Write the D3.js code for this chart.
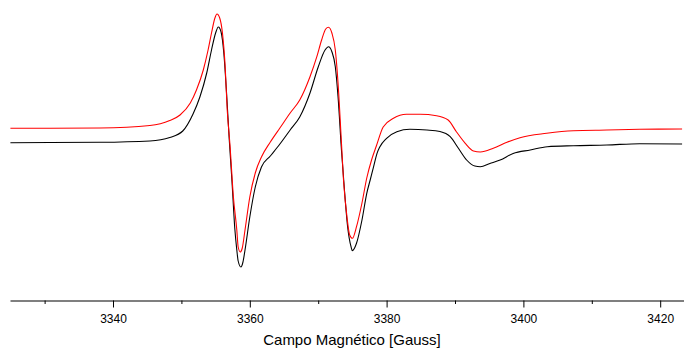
<!DOCTYPE html>
<html>
<head>
<meta charset="utf-8">
<script src="https://cdn.jsdelivr.net/npm/d3@7"></script>
<style>
  html, body { margin: 0; padding: 0; background: #fff; }
  svg { display: block; }
  text { font-family: "Liberation Sans", Arial, sans-serif; }
</style>
</head>
<body>
<svg id="chart" width="684" height="349"></svg>
<script>
// Magnetic field (Gauss) and derivative EPR intensity (arb. units)
const fieldBlack = [3325.0, 3330.8, 3338.1, 3345.4, 3348.3, 3350.2, 3351.7, 3352.7, 3353.7, 3354.4,
  3355.0, 3355.4, 3355.8, 3356.2, 3356.6, 3357.0, 3357.4, 3357.8, 3358.1, 3358.3,
  3358.7, 3359.0, 3359.3, 3360.0, 3360.8, 3361.7, 3363.0, 3364.4, 3365.9, 3367.3,
  3368.8, 3370.0, 3371.0, 3371.5, 3372.0, 3372.5, 3372.9, 3373.4, 3373.8, 3374.3,
  3374.8, 3375.0, 3375.6, 3376.4, 3377.1, 3377.6, 3378.1, 3378.6, 3379.0, 3380.0,
  3381.5, 3383.4, 3385.9, 3387.8, 3389.3, 3390.5, 3391.7, 3392.9, 3393.7, 3395.1,
  3396.6, 3398.5, 3401.0, 3403.5, 3407.3, 3412.2, 3417.0, 3423.2];
const intensityBlack = [7.3, 7.5, 7.7, 9, 12.5, 19, 36, 53, 77, 100,
  117, 123, 118, 97, 57, 10, -32, -78, -100, -111,
  -117, -112, -100, -67, -37, -17, -6, 6, 20, 33,
  57, 83, 100, 103.3, 98.3, 83.3, 53.3, 0, -36.7, -76.7,
  -96.7, -100.7, -93.3, -70, -43.3, -30, -16.7, -3.3, 3, 11.7,
  18.3, 20.7, 20, 18.5, 13.3, 1.7, -10, -16, -16.7, -13.5,
  -10, -3.5, 0, 3.3, 4.3, 5, 6.3, 6];

const fieldRed = [3325.0, 3330.8, 3338.1, 3345.4, 3348.3, 3349.8, 3351.3, 3352.2, 3353.2, 3353.9,
  3354.4, 3354.9, 3355.2, 3355.6, 3356.0, 3356.4, 3356.7, 3357.1, 3357.6, 3358.1,
  3358.3, 3358.6, 3358.9, 3359.3, 3360.0, 3360.8, 3361.7, 3363.0, 3364.4, 3365.9,
  3367.3, 3368.8, 3369.8, 3370.5, 3371.1, 3371.5, 3372.0, 3372.5, 3372.9, 3373.4,
  3373.7, 3374.2, 3374.6, 3375.0, 3375.6, 3376.4, 3377.1, 3377.8, 3378.5, 3379.5,
  3381.0, 3382.9, 3384.9, 3387.3, 3389.0, 3390.2, 3391.5, 3392.7, 3393.7, 3395.6,
  3397.6, 3399.5, 3403.4, 3407.3, 3412.2, 3417.0, 3423.2];
const intensityRed = [21.7, 21.7, 22, 24.5, 29.5, 35, 47, 60, 80, 100,
  117, 132, 136, 132, 117, 83, 40, 5, -47, -80,
  -97, -102, -98, -80, -47, -23, -7, 8, 22, 37,
  50, 73.3, 93.3, 110, 121, 122.7, 117, 100, 67, 7,
  -30, -66.7, -85, -88.3, -76.7, -53, -28, -10, 4, 23,
  31.7, 35.7, 35.7, 34.3, 30, 18.3, 6.7, -1, -2, 1.7,
  7.7, 12.3, 16.7, 19.3, 20, 20.7, 21];

const majorTicks = [3340, 3360, 3380, 3400, 3420];
const minorTicks = [3330, 3350, 3370, 3390, 3410];
const xLabel = "Campo Magnético [Gauss]";

const svg = d3.select("#chart");
const axisY = 300.5;

const x = d3.scaleLinear().domain([3324.94, 3423.48]).range([10, 684]);
const y = d3.scaleLinear().domain([-150, 150]).range([300, 0]);

const line = d3.line()
  .x(d => x(d[0]))
  .y(d => y(d[1]))
  .curve(d3.curveMonotoneX);

const black = d3.zip(fieldBlack, intensityBlack);
const red = d3.zip(fieldRed, intensityRed);

svg.append("path").datum(black)
  .attr("d", line).attr("fill", "none")
  .attr("stroke", "#000").attr("stroke-width", 1.1);
svg.append("path").datum(red)
  .attr("d", line).attr("fill", "none")
  .attr("stroke", "#ff0000").attr("stroke-width", 1.1);

// minor ticks
const gMinor = svg.append("g").attr("transform", `translate(0,${axisY})`)
  .call(d3.axisBottom(x).tickValues(minorTicks).tickSize(3.5).tickSizeOuter(0).tickFormat(""));
gMinor.select(".domain").remove();
gMinor.selectAll("line").attr("stroke", "#000");

// major ticks + labels
const gMajor = svg.append("g").attr("transform", `translate(0,${axisY})`)
  .call(d3.axisBottom(x).tickValues(majorTicks).tickSize(7).tickSizeOuter(0).tickPadding(7).tickFormat(d3.format("d")));
gMajor.select(".domain").attr("stroke", "#000").attr("stroke-width", 1.2);
gMajor.selectAll("line").attr("stroke", "#000");
gMajor.selectAll("text").attr("font-size", 12).attr("fill", "#000")
  .attr("font-family", "'Liberation Sans', Arial, sans-serif");

svg.append("text")
  .attr("x", 352).attr("y", 345)
  .attr("text-anchor", "middle")
  .attr("font-size", 15)
  .attr("fill", "#000")
  .text(xLabel);
</script>
</body>
</html>
